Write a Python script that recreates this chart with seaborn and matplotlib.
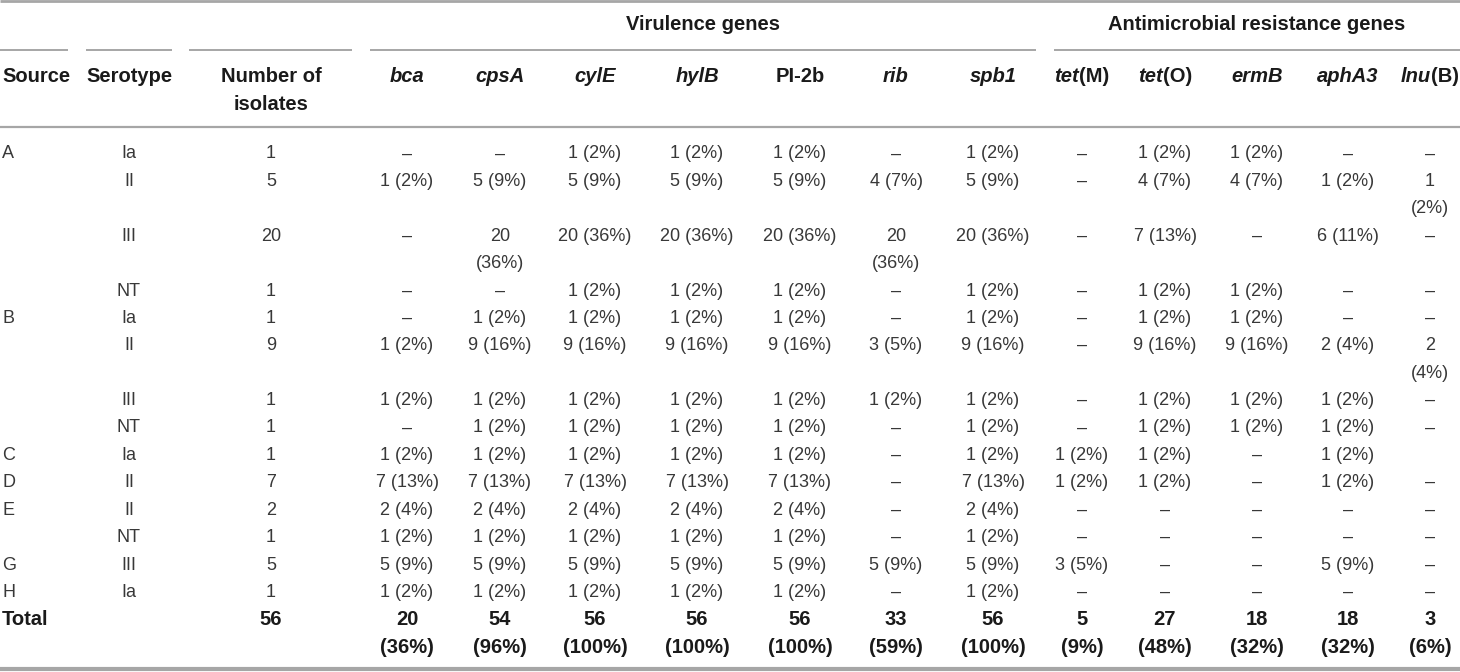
import matplotlib
matplotlib.use("Agg")
import matplotlib.pyplot as plt
import seaborn as sns

# table content
source = ["A", "A", "A", "A", "B", "B", "B", "B", "C", "D", "E", "E", "G", "H"]
serotype = ["Ia", "II", "III", "NT", "Ia", "II", "III", "NT", "Ia", "II", "II", "NT", "III", "Ia"]
n_isolates = [1, 5, 20, 1, 1, 9, 1, 1, 1, 7, 2, 1, 5, 1]

genes = [[("bca", True)], [("cpsA", True)], [("cylE", True)], [("hylB", True)],
         [("PI-2b", False)], [("rib", True)], [("spb1", True)],
         [("tet", True), ("(M)", False)], [("tet", True), ("(O)", False)],
         [("ermB", True)], [("aphA3", True)], [("lnu", True), ("(B)", False)]]

D = "\u2013"
cells = [
    [D, D, "1 (2%)", "1 (2%)", "1 (2%)", D, "1 (2%)", D, "1 (2%)", "1 (2%)", D, D],
    ["1 (2%)", "5 (9%)", "5 (9%)", "5 (9%)", "5 (9%)", "4 (7%)", "5 (9%)", D, "4 (7%)", "4 (7%)", "1 (2%)", "1\n(2%)"],
    [D, "20\n(36%)", "20 (36%)", "20 (36%)", "20 (36%)", "20\n(36%)", "20 (36%)", D, "7 (13%)", D, "6 (11%)", D],
    [D, D, "1 (2%)", "1 (2%)", "1 (2%)", D, "1 (2%)", D, "1 (2%)", "1 (2%)", D, D],
    [D, "1 (2%)", "1 (2%)", "1 (2%)", "1 (2%)", D, "1 (2%)", D, "1 (2%)", "1 (2%)", D, D],
    ["1 (2%)", "9 (16%)", "9 (16%)", "9 (16%)", "9 (16%)", "3 (5%)", "9 (16%)", D, "9 (16%)", "9 (16%)", "2 (4%)", "2\n(4%)"],
    ["1 (2%)", "1 (2%)", "1 (2%)", "1 (2%)", "1 (2%)", "1 (2%)", "1 (2%)", D, "1 (2%)", "1 (2%)", "1 (2%)", D],
    [D, "1 (2%)", "1 (2%)", "1 (2%)", "1 (2%)", D, "1 (2%)", D, "1 (2%)", "1 (2%)", "1 (2%)", D],
    ["1 (2%)", "1 (2%)", "1 (2%)", "1 (2%)", "1 (2%)", D, "1 (2%)", "1 (2%)", "1 (2%)", D, "1 (2%)", ""],
    ["7 (13%)", "7 (13%)", "7 (13%)", "7 (13%)", "7 (13%)", D, "7 (13%)", "1 (2%)", "1 (2%)", D, "1 (2%)", D],
    ["2 (4%)", "2 (4%)", "2 (4%)", "2 (4%)", "2 (4%)", D, "2 (4%)", D, D, D, D, D],
    ["1 (2%)", "1 (2%)", "1 (2%)", "1 (2%)", "1 (2%)", D, "1 (2%)", D, D, D, D, D],
    ["5 (9%)", "5 (9%)", "5 (9%)", "5 (9%)", "5 (9%)", "5 (9%)", "5 (9%)", "3 (5%)", D, D, "5 (9%)", D],
    ["1 (2%)", "1 (2%)", "1 (2%)", "1 (2%)", "1 (2%)", D, "1 (2%)", D, D, D, D, D],
]
total_n = 56
totals = ["20\n(36%)", "54\n(96%)", "56\n(100%)", "56\n(100%)", "56\n(100%)", "33\n(59%)",
          "56\n(100%)", "5\n(9%)", "27\n(48%)", "18\n(32%)", "18\n(32%)", "3\n(6%)"]

# layout (pixels)
W, H = 1460, 672
x_src, x_sero, x_num = 2, 129, 271
x_genes = [407, 500, 595, 697, 800, 896, 993, 1082, 1165, 1257, 1348, 1430]
y_first, pitch = 154, 27.4

sns.set_theme(style="white")
body_font = ["Liberation Sans Narrow", "Liberation Sans", "DejaVu Sans"]
head_font = ["Liberation Sans", "DejaVu Sans"]
plt.rcParams["font.family"] = head_font

fig = plt.figure(figsize=(W / 100, H / 100), dpi=100)
ax = fig.add_axes([0, 0, 1, 1])
ax.set_xlim(0, W)
ax.set_ylim(H, 0)
ax.axis("off")

line_col = "#a6a6a6"
txt_col = "#383838"
head_col = "#1a1a1a"
hs = 14.5
bs = 13

# rules
ax.hlines(1, 0, W, color=line_col, lw=2)
for a, b in [(0, 68), (86, 172), (189, 352), (370, 1036), (1054, W)]:
    ax.hlines(50, a, b, color=line_col, lw=1.4)
ax.hlines(127, 0, W, color=line_col, lw=1.6)
ax.hlines(669, 0, W, color=line_col, lw=3)

# header
hkw = dict(fontsize=hs, fontweight="bold", color=head_col, va="center", family=head_font)
ax.text((370 + 1036) / 2, 25, "Virulence genes", ha="center", **hkw)
ax.text((1054 + W) / 2, 25, "Antimicrobial resistance genes", ha="center", **hkw)
ax.text(x_src, 76, "Source", ha="left", **hkw)
ax.text(x_sero, 76, "Serotype", ha="center", **hkw)
ax.text(x_num, 76, "Number of", ha="center", **hkw)
ax.text(x_num, 104, "isolates", ha="center", **hkw)

renderer = fig.canvas.get_renderer()
for xc, parts in zip(x_genes, genes):
    objs = []
    for s, it in parts:
        t = ax.text(0, 76, s, ha="left", fontstyle="italic" if it else "normal", **hkw)
        objs.append(t)
    widths = [t.get_window_extent(renderer).width for t in objs]
    x0 = xc - sum(widths) / 2
    for t, w in zip(objs, widths):
        t.set_x(x0)
        x0 += w

# body
bkw = dict(fontsize=bs, color=txt_col, va="center", family=body_font)


def put(x, line, s, ha="center", **kw):
    for k, part in enumerate(s.split("\n")):
        ax.text(x, y_first + (line + k) * pitch, part, ha=ha, **kw)


line = 0
prev = None
for i in range(len(source)):
    if source[i] != prev:
        put(x_src, line, source[i], ha="left", **bkw)
        prev = source[i]
    put(x_sero, line, serotype[i], **bkw)
    put(x_num, line, str(n_isolates[i]), **bkw)
    for xc, s in zip(x_genes, cells[i]):
        put(xc, line, s, **bkw)
    line += max(s.count("\n") + 1 for s in cells[i])

tkw = dict(fontsize=hs, fontweight="bold", color=head_col, va="center", family=head_font)
put(x_src, line, "Total", ha="left", **tkw)
put(x_num, line, str(total_n), **tkw)
for xc, s in zip(x_genes, totals):
    put(xc, line, s, **tkw)

fig.savefig("out.png", dpi=100, facecolor="white")
